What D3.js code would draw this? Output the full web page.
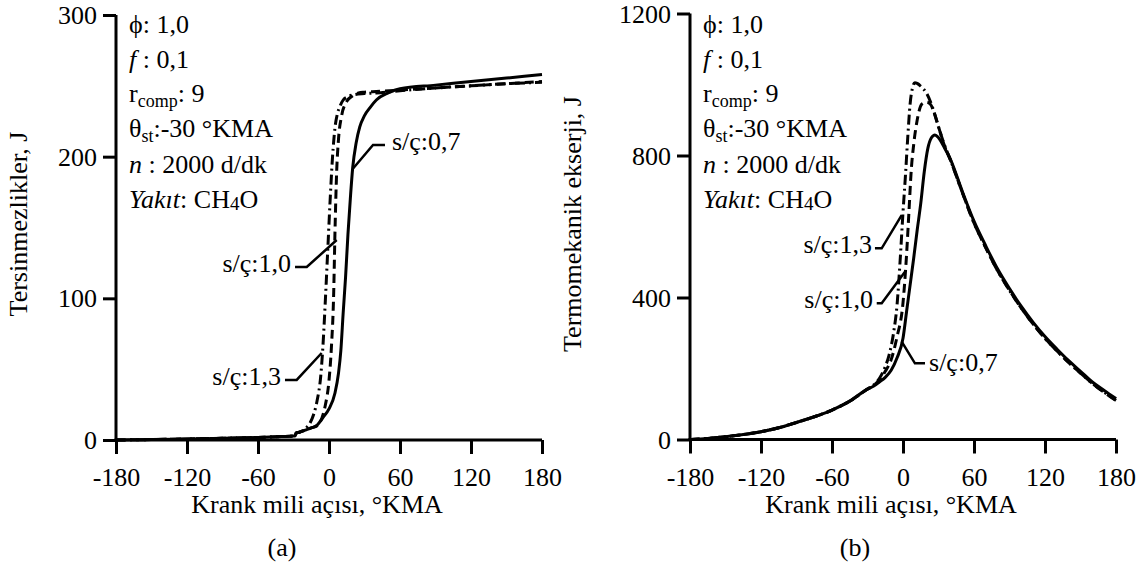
<!DOCTYPE html>
<html><head><meta charset="utf-8">
<script src="https://cdn.jsdelivr.net/npm/d3@7"></script>
<style>
html,body{margin:0;padding:0;background:#fff;}
</style></head>
<body><svg id="c" width="1146" height="562" font-family="Liberation Serif, DejaVu Serif, Times New Roman, Times, serif"></svg>
<script>
// ---------- DATA ----------
const xTicks = [-180, -120, -60, 0, 60, 120, 180];
const yTicksA = [0, 100, 200, 300];
const yTicksB = [0, 400, 800, 1200];

// (a) Tersinmezlikler, J
const angA07 = [-180,-150,-120,-90,-60,-40,-30,-28.5,-28,-25,-20,-15,-10,-5,0,5,8,10,12,14,16,18,20,23,26,30,35,40,50,60,90,120,150,180];
const valA07 = [0,0.3,0.7,1.2,1.8,2.4,2.8,3,4.8,5.5,7,8.5,10.5,16,22,33,47,63,90,115,145,170,192,210,221,229,235,240,245,248,250.5,253,255.5,258];
const angA10 = [-180,-150,-120,-90,-60,-40,-30,-28.5,-28,-25,-20,-15,-10,-5,-3,0,2,4,5,6.5,8,10.7,15,20,25,30,40,60,90,120,150,180];
const valA10 = [0,0.3,0.7,1.2,1.8,2.4,2.8,3,4.8,5.5,7,8.5,10,18,25,42,65,105,145,190,212,229,239,243,245,245.5,246,247,248.5,250,251.5,253];
const angA13 = [-180,-150,-120,-90,-60,-40,-30,-28.5,-28,-25,-20,-16,-13,-10,-7,-5,-3,-1,1,3,5,7,9,12,15,20,30,40,60,90,120,150,180];
const valA13 = [0,0.3,0.7,1.2,1.8,2.4,2.8,3,4.8,5.5,8,12,18,28,45,68,100,135,170,200,220,230,235,240,242,243.5,244.5,245,246.5,248.5,250,251.5,252.5];

// (b) Termomekanik ekserji, J
const angB07 = [-180,-165,-150,-135,-120,-105,-90,-75,-60,-45,-30,-25,-20,-15,-10,-5,0,3,6,9,12,15,18,21,24,27,30,35,40,50,60,70,80,90,100,110,120,130,140,150,160,170,180];
const valB07 = [0,3,8,14,22,33,48,64,83,108,142,150,162,175,195,230,285,360,435,510,590,665,755,820,850,858,850,822,790,700,615,545,480,425,375,330,290,255,222,192,162,138,115];
const angB10 = [-180,-165,-150,-135,-120,-105,-90,-75,-60,-45,-30,-25,-20,-15,-10,-5,0,3,5,7,9,12,16,20,23,27,31,35,40,50,60,70,80,90,100,110,120,130,140,150,160,170,180];
const valB10 = [0,3,8,14,22,33,48,64,83,108,142,152,168,192,225,290,385,520,640,760,830,900,945,950,945,914,870,828,788,697,610,540,475,420,370,325,285,250,217,187,158,133,110];
const angB13 = [-180,-165,-150,-135,-120,-105,-90,-75,-60,-45,-30,-25,-20,-15,-12,-8,-5,-2.5,0,2,4,6,8,10,12,15,20,25,30,35,40,50,60,70,80,90,100,110,120,130,140,150,160,170,180];
const valB13 = [0,3,8,14,22,33,48,64,83,108,142,153,172,205,235,300,380,500,640,740,850,945,990,1005,1003,995,975,935,880,830,788,697,610,540,475,420,370,325,285,250,217,187,158,133,110];

// label annotations in data units: curve point, elbow, end, text anchor
const annA = [
  {name:"s/ç:0,7", curve:[20.5,191.8], elbow:[37.2,208.2], end:[47.3,208.2], text:[53.2,204.7], anchor:"start"},
  {name:"s/ç:1,0", curve:[6.5,141.2], elbow:[-18.8,122.1], end:[-28.7,122.1], text:[-32.1,118.6], anchor:"end"},
  {name:"s/ç:1,3", curve:[-6.2,61.4], elbow:[-27.3,42.4], end:[-37.2,42.4], text:[-40.6,38.8], anchor:"end"}
];
const annB = [
  {name:"s/ç:1,3", curve:[-1.1,632], elbow:[-18,538.6], end:[-23.7,538.6], text:[-26.2,525.4], anchor:"end"},
  {name:"s/ç:1,0", curve:[1.7,472.7], elbow:[-18,383.7], end:[-22.2,383.7], text:[-25.4,370.4], anchor:"end"},
  {name:"s/ç:0,7", curve:[-1.1,275.5], elbow:[10.1,214.6], end:[18.6,214.6], text:[22,193], anchor:"start"}
];

// ---------- DRAW ----------
const FONT = "Liberation Serif, DejaVu Serif, Times New Roman, Times, serif";
const svg = d3.select("#c");
const FS = 26;
const dashes = [null, "9,5", "10,4,2,4"];

function panel(opt){
  const x = d3.scaleLinear([-180,180],[opt.x0,opt.x1]);
  const y = d3.scaleLinear(opt.ydom,[opt.y0,opt.y1]);
  const g = svg.append("g");

  const xa = g.append("g").attr("transform",`translate(0,${opt.y0})`)
    .call(d3.axisBottom(x).tickValues(xTicks).tickSize(14).tickSizeOuter(0).tickFormat(d=>String(d)));
  const ya = g.append("g").attr("transform",`translate(${opt.x0},0)`)
    .call(d3.axisLeft(y).tickValues(opt.yticks).tickSize(13).tickSizeOuter(0).tickFormat(d=>String(d)));
  [xa,ya].forEach(a=>{
    a.attr("font-family",FONT).attr("font-size",FS);
    a.select(".domain").attr("stroke","#000").attr("stroke-width",3);
    a.selectAll(".tick line").attr("stroke","#000").attr("stroke-width",3);
    a.selectAll("text").attr("font-size",FS).attr("font-family",FONT).attr("fill","#000");
  });
  xa.selectAll("text").attr("y",46).attr("dy",0);
  ya.selectAll("text").attr("x",-19).attr("dy","0.33em");
  xa.select(".domain").attr("d",`M${opt.x0-1.5},0H${opt.x1}`);
  ya.select(".domain").attr("d",`M0,${opt.y0+1.5}V${opt.y1}`);

  const line = d3.line().x(d=>x(d[0])).y(d=>y(d[1])).curve(d3.curveMonotoneX);
  opt.series.forEach((s,i)=>{
    const pts = s.a.map((a,k)=>[a,s.v[k]]);
    g.append("path").attr("d",line(pts)).attr("fill","none").attr("stroke","#000")
      .attr("stroke-width",3).attr("stroke-dasharray",dashes[i]).attr("stroke-linejoin","round");
  });

  const txt = (sel)=>sel.append("text").attr("font-family",FONT).attr("font-size",FS).attr("fill","#000");

  opt.ann.forEach(a=>{
    g.append("path").attr("d",d3.line()([[x(a.curve[0]),y(a.curve[1])],[x(a.elbow[0]),y(a.elbow[1])],[x(a.end[0]),y(a.end[1])]]))
      .attr("fill","none").attr("stroke","#000").attr("stroke-width",2.5);
    txt(g).attr("x",x(a.text[0])).attr("y",y(a.text[1])).attr("text-anchor",a.anchor).text(a.name);
  });

  txt(g).attr("x",(opt.x0+opt.x1)/2 - 12).attr("y",513).attr("text-anchor","middle").text("Krank mili açısı, °KMA");
  txt(g).attr("x",opt.subX).attr("y",556).attr("text-anchor","middle").text(opt.sub);
  txt(g).attr("transform",`translate(${opt.ylabX},224) rotate(-90)`).attr("text-anchor","middle").text(opt.ylab);

  const tx = opt.x0 + 13;
  const bl = [33,68,102,137,173,208];
  const t = (i)=>txt(g).attr("x",tx).attr("y",bl[i]);
  t(0).text("ϕ: 1,0");
  const t1 = t(1); t1.append("tspan").attr("font-style","italic").text("f"); t1.append("tspan").text(" : 0,1");
  const t2 = t(2); t2.append("tspan").text("r"); t2.append("tspan").attr("font-size",18).attr("dy",5).text("comp");
  t2.append("tspan").attr("dy",-5).text(": 9");
  const t3 = t(3); t3.append("tspan").text("θ"); t3.append("tspan").attr("font-size",18).attr("dy",5).text("st");
  t3.append("tspan").attr("dy",-5).text(":-30 °KMA");
  const t4 = t(4); t4.append("tspan").attr("font-style","italic").text("n"); t4.append("tspan").text(" : 2000 d/dk");
  const t5 = t(5); t5.append("tspan").attr("font-style","italic").text("Yakıt"); t5.append("tspan").text(": CH");
  t5.append("tspan").attr("font-size",19).attr("dy",2).text("4"); t5.append("tspan").attr("dy",-2).text("O");
}

panel({x0:116,x1:542,y0:440,y1:15,ydom:[0,300],yticks:yTicksA,
  series:[{a:angA07,v:valA07},{a:angA10,v:valA10},{a:angA13,v:valA13}],
  ann:annA, ylab:"Tersinmezlikler, J", ylabX:27, sub:"(a)", subX:282});
panel({x0:690,x1:1116,y0:439.5,y1:13.5,ydom:[0,1200],yticks:yTicksB,
  series:[{a:angB07,v:valB07},{a:angB10,v:valB10},{a:angB13,v:valB13}],
  ann:annB, ylab:"Termomekanik ekserji, J", ylabX:581, sub:"(b)", subX:855});
</script></body></html>
